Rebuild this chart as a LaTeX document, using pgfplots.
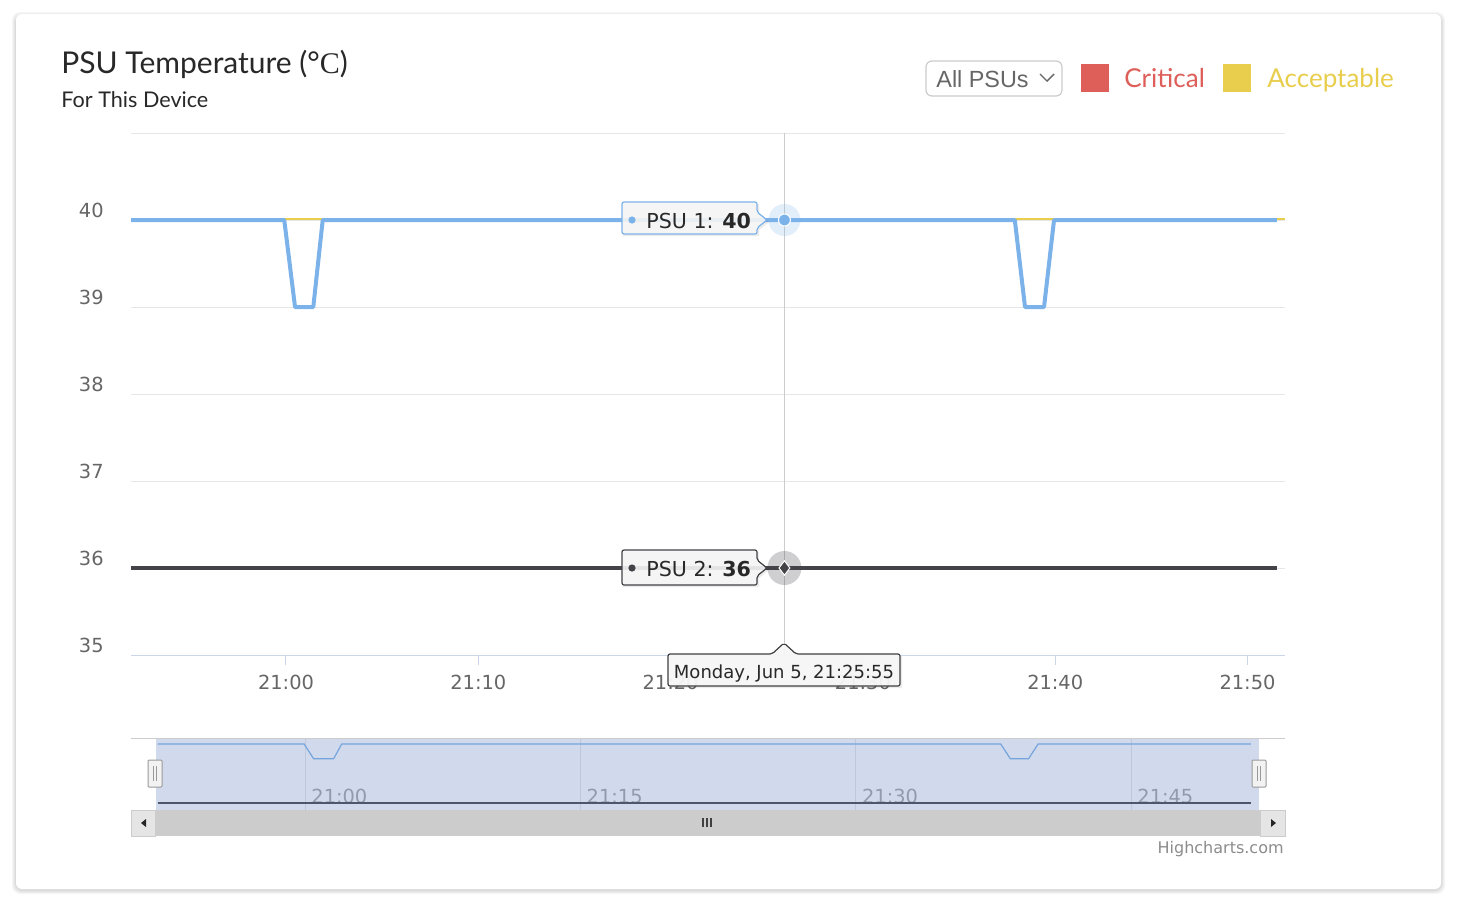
\documentclass[border=0pt]{standalone}
\usepackage{pgfplots}
\pgfplotsset{compat=1.18}
\usepackage{fontspec}
\setmainfont{Lato}
\newfontfamily\hc{DejaVu Sans}
\newfontfamily\serifC{Liberation Serif}
\newfontfamily\arial{Liberation Sans}
\definecolor{psuA}{RGB}{124,178,234}
\definecolor{psuB}{RGB}{67,67,72}
\definecolor{crit}{RGB}{222,95,89}
\definecolor{acc}{RGB}{232,206,76}
\definecolor{gridc}{RGB}{230,230,230}
\definecolor{axisc}{RGB}{204,214,235}
\definecolor{lab}{RGB}{102,102,102}
\definecolor{maskc}{RGB}{102,133,194}
\definecolor{navlab}{RGB}{165,165,165}
\definecolor{titlec}{RGB}{40,40,40}

\begin{document}
\begin{tikzpicture}[x=0.5pt,y=-0.5pt]
% page and card
\fill[white] (0,0) rectangle (1458,900);
\foreach \k in {1,2,3,4}{
  \fill[black,opacity=0.035,rounded corners=4pt] (16-\k,14-\k+2) rectangle (1441+\k,889+\k+1);
}
\fill[white,rounded corners=3pt] (16,14) rectangle (1441,889);

% title
\node[anchor=base west,inner sep=0pt,text=titlec,font=\fontsize{15}{18}\selectfont] at (61,73) {PSU Temperature (°{\serifC C})};
\node[anchor=base west,inner sep=0pt,text=titlec,font=\fontsize{10.8}{13}\selectfont] at (61,107) {For This Device};

% dropdown and legend
\draw[black!20,line width=0.6pt,rounded corners=3pt] (926,61) rectangle (1062,96);
\node[anchor=base west,inner sep=0pt,text=lab,font=\arial\fontsize{11.7}{14}\selectfont] at (936,87) {All PSUs};
\draw[lab,line width=0.7pt] (1040,74)--(1047,81)--(1054,74);
\fill[crit] (1081,64) rectangle (1109,92);
\node[anchor=base west,inner sep=0pt,text=crit,font=\fontsize{13}{15}\selectfont] at (1124,87) {Critical};
\fill[acc] (1223,64) rectangle (1251,92);
\node[anchor=base west,inner sep=0pt,text=acc,font=\fontsize{13}{15}\selectfont] at (1267,87) {Acceptable};

% main axis
\begin{axis}[
  at={(65.5pt,-327.5pt)}, anchor=south west,
  scale only axis, width=577pt, height=261pt,
  xmin=51.94, xmax=111.95, ymin=35, ymax=41,
  axis x line*=bottom, axis y line*=left,
  x axis line style={axisc,line width=0.5pt,-},
  y axis line style={draw=none},
  xtick={60,70,80,90,100,110},
  xticklabels={21:00,21:10,21:20,21:30,21:40,21:50},
  ytick={35,36,37,38,39,40,41},
  yticklabels={35,36,37,38,39,40,{}},
  ymajorgrids, grid style={gridc,line width=0.5pt},
  xtick align=outside, major tick length=5pt,
  xtick style={axisc,line width=0.5pt},
  ytick style={draw=none},
  xticklabel style={font=\hc\fontsize{9.7}{11}\selectfont,text=lab,anchor=center,yshift=-8.5pt},
  yticklabel style={font=\hc\fontsize{9.7}{11}\selectfont,text=lab,anchor=east,inner sep=0pt,xshift=-13.5pt,yshift=5pt},
  clip=false,
]
\draw[black!20,line width=0.5pt] (axis cs:85.92,35) -- (axis cs:85.92,41);
\addplot[acc,line width=1.1pt,forget plot] coordinates {(51.94,40.012) (111.95,40.012)};
\addplot[psuA,line width=2pt,line join=round] coordinates {
(51.94,40) (59.91,40) (60.47,39) (61.42,39) (61.91,40)
(97.90,40) (98.43,39) (99.42,39) (99.94,40) (111.53,40)};
\addplot[psuB,line width=2pt] coordinates {(51.94,36) (111.53,36)};
% hover markers
\addplot[only marks,mark=*,mark size=8pt,psuA,mark options={fill=psuA,draw opacity=0,fill opacity=0.22,line width=0pt}] coordinates {(85.92,40)};
\addplot[only marks,mark=*,mark size=3pt,mark options={fill=psuA,draw=white,line width=0.5pt}] coordinates {(85.92,40)};
\addplot[only marks,mark=*,mark size=8.5pt,psuB,mark options={fill=psuB,draw opacity=0,fill opacity=0.25,line width=0pt}] coordinates {(85.92,36)};
\addplot[only marks,mark=diamond*,mark size=3.6pt,mark options={fill=psuB,draw=white,line width=0.5pt}] coordinates {(85.92,36)};
\end{axis}

% tooltips
\fill[black,opacity=0.08] (623,204) -- (759,204) -- (759,214) -- (769,222) -- (759,230) -- (759,236) -- (623,236) -- cycle;
\filldraw[fill=black!3,fill opacity=0.9,draw=psuA,line width=0.6pt,rounded corners=1pt] (622,202) -- (757,202) -- (757,212) -- (767,220) -- (757,228) -- (757,234) -- (622,234) -- cycle;
\fill[psuA] (632,220) circle[radius=1.8pt];
\node[anchor=base west,inner sep=0pt,font=\hc\fontsize{10.3}{12}\selectfont,text=titlec] at (646,228) {PSU 1: \textbf{40}};

\fill[black,opacity=0.08] (623,552) -- (759,552) -- (759,562) -- (769,570) -- (759,578) -- (759,587) -- (623,587) -- cycle;
\filldraw[fill=black!3,fill opacity=0.9,draw=psuB,line width=0.6pt,rounded corners=1pt] (622,550) -- (757,550) -- (757,560) -- (767,568) -- (757,576) -- (757,585) -- (622,585) -- cycle;
\fill[psuB] (632,568) circle[radius=1.8pt];
\node[anchor=base west,inner sep=0pt,font=\hc\fontsize{10.3}{12}\selectfont,text=titlec] at (646,576) {PSU 2: \textbf{36}};

\fill[black,opacity=0.08] (670,656) -- (774,656) -- (786,645) -- (798,656) -- (902,656) -- (902,688) -- (670,688) -- cycle;
\filldraw[fill=black!3,fill opacity=0.95,draw=black!75,line width=0.6pt,rounded corners=1pt] (668,654) -- (772,654) -- (784,643) -- (796,654) -- (900,654) -- (900,686) -- (668,686) -- cycle;
\node[anchor=base,inner sep=0pt,font=\hc\fontsize{9}{11}\selectfont,text=titlec] at (784,678) {Monday, Jun 5, 21:25:55};

% navigator
\begin{axis}[
  at={(65.5pt,-405pt)}, anchor=south west,
  scale only axis, width=577pt, height=36pt,
  xmin=50.52, xmax=113.39, ymin=35.525, ymax=40.407,
  axis line style={draw=none},
  xtick=\empty, ytick=\empty,
  clip=false,
]
\foreach \t/\l in {60/21:00,75/21:15,90/21:30,105/21:45}{
  \edef\temp{\noexpand\draw[gridc,line width=0.5pt] (axis cs:\t,35.525) -- (axis cs:\t,40.407);
  \noexpand\node[anchor=base west,inner sep=0pt,font=\noexpand\hc\noexpand\fontsize{9.7}{11}\noexpand\selectfont,text=navlab] at (axis cs:\t,35.525) [xshift=3pt,yshift=3.5pt] {\l};}
  \temp
}
\addplot[psuA,line width=0.6pt,line join=round] coordinates {
(51.97,40) (59.95,40) (60.47,39) (61.56,39) (62.0,40)
(97.90,40) (98.43,39) (99.42,39) (99.94,40) (111.53,40)};
\addplot[psuB,line width=0.7pt] coordinates {(51.97,36) (111.53,36)};
\fill[maskc,opacity=0.3] (axis cs:51.88,35.525) rectangle (axis cs:111.98,40.407);
\end{axis}

\draw[black!20,line width=0.5pt] (131,738) -- (1285,738);
% handles
\foreach \hx in {148,1252}{
  \filldraw[fill=black!5,draw=black!40,line width=0.5pt,rounded corners=0.5pt] (\hx,760) rectangle (\hx+14,787);
  \draw[black!40,line width=0.5pt] (\hx+5.5,766) -- (\hx+5.5,781);
  \draw[black!40,line width=0.5pt] (\hx+8.5,766) -- (\hx+8.5,781);
}
% scrollbar
\fill[black!20] (131,810) rectangle (1285,836);
\filldraw[fill=black!10,draw=black!20,line width=0.5pt] (131,810) rectangle (155,836);
\filldraw[fill=black!10,draw=black!20,line width=0.5pt] (1260,810) rectangle (1285,836);
\fill[black!85] (141,823) -- (146,819) -- (146,827) -- cycle;
\fill[black!85] (1276,823) -- (1271,819) -- (1271,827) -- cycle;
\foreach \sx in {703,707,711}{ \draw[black!75,line width=0.6pt] (\sx,818) -- (\sx,827); }

\node[anchor=base east,inner sep=0pt,font=\hc\fontsize{8}{9.5}\selectfont,text=black!45] at (1284,853) {Highcharts.com};
\end{tikzpicture}
\end{document}
